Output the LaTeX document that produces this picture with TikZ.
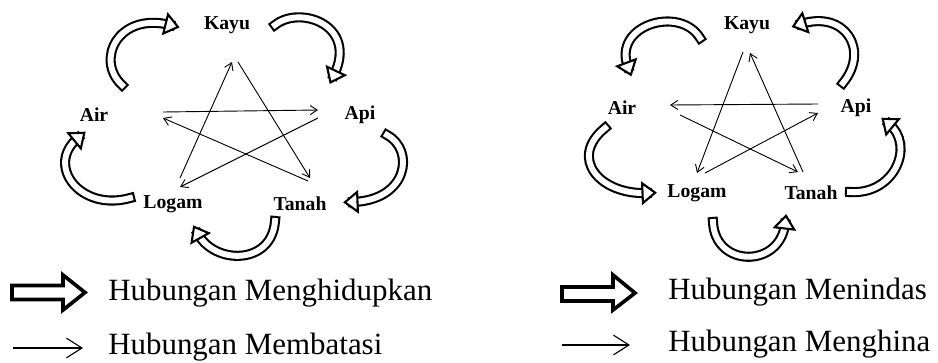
\documentclass[tikz,border=0pt]{standalone}
\usepackage{fontspec}
\setmainfont{Liberation Serif}
\usetikzlibrary{arrows.meta,decorations.markings}

\tikzset{
  elem/.style={font=\bfseries\fontsize{14}{16}\selectfont, inner sep=1pt},
  bound/.style={line width=0.65pt, -{Straight Barb[length=5pt,width=6.5pt]}},
  cycl/.style={line width=1.5pt, double=white, double distance=4.2pt,
    line cap=rect,
    postaction={decorate, decoration={markings, mark=at position -0.2pt with
      {\draw [line width=1.5pt, fill=white, line join=miter]
        (-3pt,-7pt) -- (6pt,0pt) -- (-3pt,7pt) -- cycle;}}}},
  legbig/.style={line width=2.6pt, line join=miter},
  legthin/.style={line width=0.8pt, -{Straight Barb[length=11pt,width=14pt]}},
  legtext/.style={anchor=west, font=\fontsize{22}{26}\selectfont,
    inner sep=0pt}
}

\begin{document}
\begin{tikzpicture}[x=0.025cm, y=-0.025cm]
    \useasboundingbox (0,0) rectangle (938,362);

    % left: menghidupkan / membatasi
    \node [elem] (kayu1) at (227,25) {Kayu};
    \node [elem] (api1) at (360,115) {Api};
    \node [elem] (air1) at (94,115) {Air};
    \node [elem] (logam1) at (173,204) {Logam};
    \node [elem] (tanah1) at (300,204) {Tanah};

    \coordinate (g1) at (122,85);
    \coordinate (g2) at (170,25);
    \coordinate (g3) at (275,25);
    \coordinate (g4) at (334,75);
    \coordinate (g5) at (387,135);
    \coordinate (g6) at (353,202);
    \coordinate (g7) at (275,221);
    \coordinate (g8) at (198,234);
    \coordinate (g9) at (130,198);
    \coordinate (g10) at (78,138);

    \draw [cycl] (g1) .. controls (95,60) and (118,12) .. (g2);
    \draw [cycl] (g3) .. controls (300,5) and (358,25) .. (g4);
    \draw [cycl] (g5) .. controls (415,150) and (408,200) .. (g6);
    \draw [cycl] (g7) .. controls (272,265) and (215,265) .. (g8);
    \draw [cycl] (g9) .. controls (80,212) and (45,165) .. (g10);

    \coordinate (s1) at (238,62);
    \coordinate (s2) at (232,62);
    \coordinate (s3) at (318,110);
    \coordinate (s4) at (318,118);
    \coordinate (s5) at (310,178);
    \coordinate (s6) at (308,181);
    \coordinate (s7) at (180,178);
    \coordinate (s8) at (180,187);
    \coordinate (s9) at (163,112);
    \coordinate (s10) at (163,118);

    \draw [bound] (s1) -- (s5);
    \draw [bound] (s7) -- (s2);
    \draw [bound] (s9) -- (s3);
    \draw [bound] (s4) -- (s8);
    \draw [bound] (s6) -- (s10);

    % right: menindas / menghina
    \node [elem] (kayu2) at (747,25) {Kayu};
    \node [elem] (api2) at (856,108) {Api};
    \node [elem] (air2) at (622,108) {Air};
    \node [elem] (logam2) at (697,193) {Logam};
    \node [elem] (tanah2) at (811,193) {Tanah};

    \coordinate (h1) at (700,38);
    \coordinate (h2) at (628,67);
    \coordinate (h3) at (843,83);
    \coordinate (h4) at (801,24);
    \coordinate (h5) at (850,192);
    \coordinate (h6) at (889,124);
    \coordinate (h7) at (713,222);
    \coordinate (h8) at (785,224);
    \coordinate (h9) at (605,128);
    \coordinate (h10) at (647,193);

    \draw [cycl] (h1) .. controls (680,5) and (612,25) .. (h2);
    \draw [cycl] (h3) .. controls (870,50) and (845,10) .. (h4);
    \draw [cycl] (h5) .. controls (895,195) and (915,145) .. (h6);
    \draw [cycl] (h7) .. controls (715,268) and (780,268) .. (h8);
    \draw [cycl] (h9) .. controls (568,158) and (600,195) .. (h10);

    \coordinate (t1) at (743,52);
    \coordinate (t2) at (750,53);
    \coordinate (t3) at (818,104);
    \coordinate (t4) at (818,113);
    \coordinate (t5) at (803,172);
    \coordinate (t6) at (798,172);
    \coordinate (t7) at (705,173);
    \coordinate (t8) at (697,173);
    \coordinate (t9) at (680,115);
    \coordinate (t10) at (670,105);

    \draw [bound] (t1) -- (t8);
    \draw [bound] (t5) -- (t2);
    \draw [bound] (t3) -- (t10);
    \draw [bound] (t7) -- (t4);
    \draw [bound] (t9) -- (t6);

    % legend
    \draw [legbig] (12,285.5) -- (63,285.5) -- (63,275) -- (85,292.5)
      -- (63,310) -- (63,299.5) -- (12,299.5) -- cycle;
    \node [legtext] (hidup) at (108,293) {Hubungan Menghidupkan};

    \coordinate (m1) at (13,348);
    \coordinate (m2) at (83,348);
    \draw [legthin] (m1) -- (m2);
    \node [legtext] (batas) at (108,347) {Hubungan Membatasi};

    \draw [legbig] (562,287) -- (613,287) -- (613,275) -- (635,293)
      -- (613,310) -- (613,301) -- (562,301) -- cycle;
    \node [legtext] (tindas) at (668,292) {Hubungan Menindas};

    \coordinate (n1) at (562,345);
    \coordinate (n2) at (630,345);
    \draw [legthin] (n1) -- (n2);
    \node [legtext] (hina) at (668,344) {Hubungan Menghina};
  \end{tikzpicture}
\end{document}
